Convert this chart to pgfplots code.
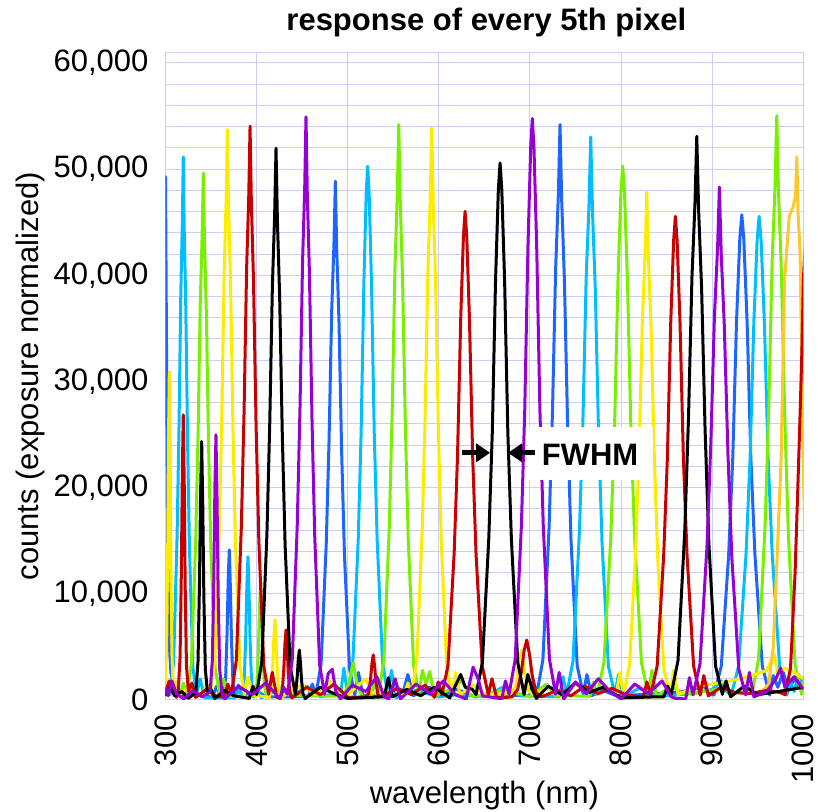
\documentclass[border=0pt]{standalone}
\usepackage{fontspec}
\setmainfont{Liberation Sans}
\usepackage{pgfplots}
\pgfplotsset{compat=1.18}
\usetikzlibrary{arrows.meta}
\definecolor{gridc}{RGB}{205,205,250}
\definecolor{cblue}{RGB}{30,100,255}
\definecolor{ccyan}{RGB}{0,190,255}
\definecolor{cgreen}{RGB}{120,240,0}
\definecolor{cyellow}{RGB}{255,235,0}
\definecolor{corange}{RGB}{255,200,40}
\definecolor{cred}{RGB}{200,0,0}
\definecolor{cpurple}{RGB}{150,0,210}
\newcommand{\fs}{\fontsize{15.5}{18}\selectfont}
\begin{document}
\begin{tikzpicture}[font=\fs]
\useasboundingbox (-82.75pt,-56pt) rectangle ++(409pt,406pt);
\begin{axis}[
 at={(0,0)}, anchor=south west,
 scale only axis, width=318.9pt, height=323.85pt,
 xmin=300, xmax=1000, ymin=0, ymax=61000,
 xtick={300,400,...,1000},
 ytick={0,10000,...,60000},
 minor y tick num=4,
 grid=both,
 major grid style={gridc, line width=0.5pt},
 minor grid style={gridc, line width=0.5pt},
 axis line style={gridc, line width=0.5pt},
 major tick length=0pt, minor tick length=0pt,
 scaled y ticks=false,
 /pgf/number format/assume math mode=true,
 xticklabel style={rotate=90, anchor=east, inner sep=7pt, /pgf/number format/1000 sep={}},
 yticklabel style={xshift=-5pt, /pgf/number format/1000 sep={,}},
 tick label style={font=\fs, text=black},
 title={response of every 5th pixel},
 title style={at={(axis description cs:0.503,1.027)}, anchor=center, font=\bfseries\fs},
 xlabel={wavelength (nm)},
 xlabel style={at={(axis description cs:0.5,-0.1467)}, anchor=center, font=\fs},
 ylabel={counts (exposure normalized)},
 ylabel style={at={(axis description cs:-0.211,0.5)}, anchor=center, font=\fs},
 every axis plot/.append style={line width=1.5pt, line join=round, mark=none},
]
% blue
\addplot[cblue] coordinates {
(299,46000) (300,49300) (301.2,32000) (302.5,14000) (304,5500) (306,2500) (308,1800) (310,700) (314,900) (318,400) (340,500) (352,400) (356,1300) (360,400)
(363.6,420) (366.0,2120) (367.6,6360) (368.8,11310) (370.0,14140) (371.2,10610) (372.4,5660) (374.0,1700) (376.4,420) (380,1400) (384,300)
(400,900) (410,300) (440,300) (457.1,400) (461.1,1500)
(465.1,490) (470.8,3420) (476.4,14660) (479.5,24430) (482.4,36640) (484.9,42990) (486.4,48850) (487.9,42500) (490.4,35660) (493.3,23450) (496.4,13680) (502.0,2930) (507.7,490) (511.7,2600) (516.7,400)
(560,500) (566,2400) (572,400) (590,1200) (600,400) (620,1000) (640,300) (660,500)
(699.5,400) (703.5,1800)
(707.5,540) (714.2,3790) (721.0,16260) (724.7,27100) (728.2,40650) (731.2,47700) (733.0,54200) (734.8,47150) (737.8,39570) (741.3,26020) (745.0,15180) (751.8,3250) (758.5,540) (762.5,2400) (767.5,400)
(780,900) (795,400) (820,500) (860,700) (880,1000) (890,1400) (896,700)
(901.9,460) (910.0,3200) (918.1,13710) (922.6,22850) (926.7,35650) (930.3,43420) (932.5,45700) (934.7,43420) (938.3,35650) (942.4,22850) (946.9,13710) (955.0,3200) (963.1,460)
(967,2300) (972,1200) (978,2600) (984,900) (990,2000) (995,1300) (1000,2200)
};
% cyan
\addplot[ccyan] coordinates {
(300,1500) (302.5,700)
(305.0,510) (308.9,3580) (312.7,15350) (314.8,25580) (316.8,38360) (318.5,45010) (319.5,51150) (320.5,44500) (322.2,37340) (324.2,24550) (326.3,14320) (330.1,3070) (334.0,510) (338,2000) (343,200)
(376,200) (380,900)
(384.1,410) (386.5,2030) (388.1,6080) (389.3,10800) (390.5,13500) (391.7,10130) (392.9,5400) (394.5,1620) (396.9,410) (401,1200) (405,200)
(425,1000) (440,400) (455,1300) (470,300) (486,600) (491.8,300) (495.8,3000)
(499.8,500) (505.6,3520) (511.5,15080) (514.7,25140) (517.7,39210) (520.3,47760) (521.9,50270) (523.5,47760) (526.1,39210) (529.1,25140) (532.3,15080) (538.2,3520) (544.0,500) (548,2800) (553,200)
(570,1000) (600,300) (620,500) (650,300) (670,1200) (690,400)
(732.3,300) (736.3,2200)
(740.3,530) (747.3,3710) (754.3,15910) (758.2,26520) (761.7,39770) (764.8,46670) (766.7,53030) (768.6,46140) (771.7,38710) (775.2,25450) (779.1,14850) (786.1,3180) (793.1,530) (797.1,2400) (802.1,300)
(820,1100) (835,500) (850,400) (880,600) (900,1000) (910,1800) (916,800)
(920.9,460) (929.0,3190) (937.1,13670) (941.6,22780) (945.7,35530) (949.3,43270) (951.5,45550) (953.7,43270) (957.3,35530) (961.4,22780) (965.9,13670) (974.0,3190) (982.1,460)
(985,1900) (990,800) (995,2400) (1000,1500)
};
% green
\addplot[cgreen] coordinates {
(300,800) (305,1500) (310,600) (315.6,350) (319.6,1600)
(323.6,500) (328.4,3470) (333.1,14890) (335.7,24820) (338.1,37230) (340.2,43680) (341.5,49640) (342.8,43190) (344.9,36240) (347.3,23830) (349.9,13900) (354.6,2980) (359.4,500) (363.4,2000) (368.4,350)
(398.1,330) (400.5,1670) (402.1,5020) (403.3,8920) (404.5,11150) (405.7,8360) (406.9,4460) (408.5,1340) (410.9,330)
(425,1200) (438,500) (450,400) (495,350) (501,1500) (506,3500) (511,1200) (516,350)
(525.9,350) (529.9,1800)
(533.9,540) (539.7,3790) (545.6,16260) (548.8,27100) (551.8,40640) (554.4,47690) (556.0,54190) (557.6,47150) (560.2,39560) (563.2,26010) (566.4,15170) (572.3,3250) (578.1,540) (582,2800) (586,1500) (590,2700) (595,350)
(610,900) (625,1800) (635,400) (650,400) (672,1000) (700,300) (718,1500) (728,400) (740,400) (765.7,350) (769.7,1700)
(773.7,500) (781.2,3520) (788.6,15080) (792.7,25140) (796.5,39210) (799.8,47760) (801.8,50270) (803.8,47760) (807.1,39210) (810.9,25140) (815.0,15080) (822.4,3520) (829.9,500) (833.9,2800) (838.9,350)
(855,1300) (868,600) (880,600) (910,1100) (925,700) (935.7,800) (939.7,2000)
(943.7,550) (950.9,3850) (958.1,16510) (962.1,27520) (965.8,41280) (969.0,48440) (970.9,55040) (972.8,47880) (976.0,40180) (979.7,26420) (983.7,15410) (990.9,3300) (998.1,550) (1000,1800)
};
% yellow
\addplot[cyellow] coordinates {
(299.4,930) (301.2,4640) (302.4,13920) (303.3,24750) (304.2,30940) (305.1,23210) (306.0,12380) (307.2,3710) (309.0,930) (312,1800) (316,500)
(325,1200) (333,600) (341.2,500) (345.2,1500)
(349.2,540) (354.1,3760) (359.1,16120) (361.8,26860) (364.4,40290) (366.6,47270) (367.9,53720) (369.2,46740) (371.4,39220) (374.0,25790) (376.7,15040) (381.7,3220) (386.6,540) (390.6,2200) (395.6,500)
(413.8,230) (416.2,1130) (417.8,3390) (419.0,6030) (420.2,7540) (421.4,5660) (422.6,3020) (424.2,900) (426.6,230)
(450,1400) (465,500) (480,1800) (490,600) (500,500) (520,2000) (526,700) (540,500) (550,1000) (562.1,500) (566.1,1600)
(570.1,540) (575.9,3770) (581.8,16160) (585.0,26940) (588.0,40410) (590.6,47410) (592.2,53880) (593.8,46880) (596.4,39330) (599.4,25860) (602.6,15090) (608.5,3230) (614.3,540) (618.3,2600) (623.3,500)
(638,1400) (648,600) (660,500) (680,600) (685,1500) (688,3800) (691,4700) (694,2800) (698,900) (704,500)
(720,1200) (735,500) (750,1500) (765,700) (780,1300) (794.7,500) (798.7,2600)
(802.7,480) (809.4,3350) (816.2,14340) (819.9,23910) (823.4,35860) (826.4,42070) (828.2,47810) (830.0,41590) (833.0,34900) (836.5,22950) (840.2,13390) (847.0,2870) (853.7,480) (857.7,2800) (862.7,500)
(880,1200) (900,1500) (920,1800) (940,2200) (960,2800) (968,4300) (972,2500) (980,3000) (990,2600) (1000,2000)
};
% orange
\addplot[corange] coordinates {
(955,800) (962,1500) (967,5000) (971.5,14000) (975.5,22300) (979.5,39600) (984.5,45500) (989,46500) (991.5,47500) (992.9,51150) (994.2,46000) (996.5,42000) (998.5,30000) (1000.5,20000) (1004,5000)
};
% red
\addplot[cred] coordinates {
(300,600) (304,1800) (308,800) (312,250)
(313.9,810) (316.0,4030) (317.4,12090) (318.5,21490) (319.5,26860) (320.6,20150) (321.6,10740) (323.0,3220) (325.1,810) (329,1600) (333,250)
(345,1000) (355,400) (364.4,250) (368.4,1500)
(372.4,540) (377.8,3780) (383.2,16210) (386.2,27020) (389.0,40530) (391.4,47560) (392.8,54040) (394.2,47010) (396.6,39450) (399.4,25940) (402.4,15130) (407.8,3240) (413.2,540) (417.2,2600) (422.2,250)
(425.9,200) (428.3,990) (429.9,2970) (431.1,5280) (432.3,6600) (433.5,4950) (434.7,2640) (436.3,790) (438.7,200)
(455,1200) (470,500) (485,1500) (500,250) (520,300) (523,640) (525,1910) (526.5,3390) (528,4240) (529.5,3180) (531,1700) (533,510) (536,300)
(555,1100) (570,500) (585,1400) (595.3,250) (599.3,1700)
(603.3,460) (610.0,3220) (616.8,13810) (620.5,23010) (624.0,35900) (627.0,43720) (628.8,46020) (630.6,43720) (633.6,35900) (637.1,23010) (640.8,13810) (647.6,3220) (654.3,460) (658.3,2000) (663.3,250)
(675,250) (680.5,300) (686.5,1000) (690.5,2600) (693.5,4600) (696.5,5650) (699.5,4300) (702.5,2300) (706.5,700) (712.5,300)
(730,900) (745,400) (760,1300) (775,600) (790,1100) (805,500) (824.4,250) (828.4,1700)
(832.4,460) (839.6,3190) (846.8,13670) (850.8,22780) (854.5,35530) (857.7,43270) (859.6,45550) (861.5,43270) (864.7,35530) (868.4,22780) (872.4,13670) (879.6,3190) (886.8,460) (890.8,2300) (895.8,400)
(910,1200) (925,700) (940,600) (960,900) (975,700) (980,500) (986,3000) (991,12000) (994,20000) (996.5,27000) (998.5,33000) (1000,39300) (1003,45000)
};
% black
\addplot[black] coordinates {
(300,400) (305,1200) (310,400) (318,800) (325,150)
(333.3,730) (335.7,3650) (337.3,10960) (338.5,19480) (339.7,24350) (340.9,18260) (342.1,9740) (343.7,2920) (346.1,730) (350,1000) (354,150)
(365,900) (375,400) (392,150) (396,1300)
(400.0,520) (405.7,3640) (411.3,15590) (414.4,25980) (417.3,38970) (419.8,45720) (421.3,51960) (422.8,45210) (425.3,37930) (428.2,24940) (431.3,14550) (436.9,3120) (442.6,520)
(442.9,710) (444.5,2120) (445.7,3760) (446.9,4700) (448.1,3530) (449.3,1880) (450.9,560) (453.3,140)
(470,1200) (485,600) (500,150) (540,300) (544.6,2100) (549,300) (565,1000) (580,400) (595,1200)
(612,200) (619,1500) (624,2400) (629,1200) (636.8,1000)
(640.8,510) (647.8,3540) (654.8,15170) (658.7,25290) (662.2,39450) (665.3,48050) (667.2,50580) (669.1,48050) (672.2,39450) (675.7,25290) (679.6,15170) (686.6,3540) (693.6,510) (697.6,2400) (702.6,1000) (707,150)
(720,1300) (735,500) (750,1600) (765,700) (780,1200) (800,200) (840,300) (847,300) (851,1300)
(855.0,530) (862.5,3720) (869.9,15930) (874.0,26550) (877.8,39820) (881.1,46720) (883.1,53090) (885.1,46190) (888.4,38760) (892.2,25480) (896.3,14870) (903.7,3190) (911.2,530) (915.2,1800) (920.2,300)
(935,1300) (950,500) (980,900) (1000,1200)
};
% purple
\addplot[cpurple] coordinates {
(300,1200) (303,400) (307,1800) (312,600) (320,100) (330,900) (340,300)
(349.0,750) (351.4,3750) (353.0,11240) (354.2,19980) (355.4,24980) (356.6,18740) (357.8,9990) (359.4,3000) (361.8,750) (365,100)
(380,1300) (395,500) (410,1600) (425.8,100) (429.8,1200)
(433.8,550) (439.2,3840) (444.6,16480) (447.6,27460) (450.4,41190) (452.8,48330) (454.2,54920) (455.6,47780) (458.0,40090) (460.8,26360) (463.8,15380) (469.2,3300) (474.6,550) (478.6,2500) (483,2900) (487,800) (492,100)
(505,1400) (520,800) (532,2200) (540,300) (545,100) (552,2000) (558,100)
(575,1500) (590,600) (605,1800) (618,500) (630,100) (637.6,3100) (643,2000) (648,400) (669.1,100) (673.1,1800)
(677.1,550) (683.8,3830) (690.6,16430) (694.3,27380) (697.8,42710) (700.8,52020) (702.6,54760) (704.4,52020) (707.4,42710) (710.9,27380) (714.6,16430) (721.4,3830) (728.1,550) (732.1,2600) (737.1,100)
(750,1700) (762,600) (775,2000) (788,800) (800,100) (815,1500) (830,600) (845,1800) (855,300) (860,150) (871,100) (875,2100)
(879.0,480) (886.6,3380) (894.3,14490) (898.5,24160) (902.5,36230) (905.9,42510) (907.9,48310) (909.9,42030) (913.3,35270) (917.3,23190) (921.5,13530) (929.2,2900) (936.8,480) (940.8,2600) (945.8,300)
(960,800) (970,2000) (975,3000) (980,1200) (990,2200) (1000,1000)
};
% FWHM annotation
\fill[white] (axis cs:697.9,20735) rectangle (axis cs:835.1,25730);
\node[font=\bfseries\fs] at (axis cs:766,23090) {FWHM};
\draw[line width=2.5pt, -{Triangle[length=7pt,width=9pt]}] (axis cs:625.5,23280) -- (axis cs:656.3,23280);
\draw[line width=2.5pt, -{Triangle[length=7pt,width=9pt]}] (axis cs:705.7,23280) -- (axis cs:676,23280);
\end{axis}
\end{tikzpicture}
\end{document}
